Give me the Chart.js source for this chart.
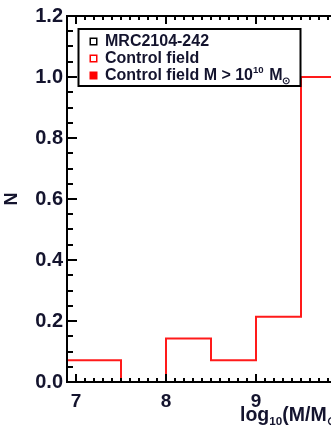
<!DOCTYPE html>
<html>
<head>
<meta charset="utf-8">
<script src="https://cdn.jsdelivr.net/npm/chart.js@4"></script>
<style>
  html, body { margin: 0; padding: 0; background: #fff; overflow: hidden; width: 331px; height: 431px; }
  #wrap { position: absolute; left: 0; top: 0; width: 528px; height: 431px; }
</style>
</head>
<body>
<div id="wrap"><canvas id="c" width="528" height="431"></canvas></div>
<script>
// Stellar-mass histogram: bin edges in log10(M/Msun) and normalised counts per bin
const binEdges = [6.5, 7.0, 7.5, 8.0, 8.5, 9.0, 9.5, 10.0];
const controlCounts = [0.071, 0.071, 0.0, 0.143, 0.071, 0.214, 1.0];
const clusterCounts = [];   // MRC2104-242
const massiveCounts = [];   // control field, M > 10^10 Msun

// Axis ticks
const xTickValues = [7, 8, 9, 10, 11];
const yTickValues = [0.0, 0.2, 0.4, 0.6, 0.8, 1.0, 1.2];

// Legend entries (text runs: normal / superscript / subscript)
const legendEntries = [
  { runs: [{ t: 'MRC2104-242' }], stroke: '#000', fill: null },
  { runs: [{ t: 'Control field' }], stroke: '#ff0000', fill: null },
  { runs: [{ t: 'Control field M > 10' }, { t: '10', sup: true }, { t: ' M' }, { t: '\u2299', sub: true }], stroke: '#ff0000', fill: '#ff0000' }
];

const FONT = '"Liberation Sans", Arial, Helvetica, sans-serif';
const TEXT = '#14142e';

// Turn bin edges + counts into step points; each count holds until the next edge
function histPoints(edges, counts) {
  if (!counts.length) return [];
  const pts = counts.map((c, i) => ({ x: edges[i], y: c }));
  pts.push({ x: edges[counts.length], y: counts[counts.length - 1] });
  pts.push({ x: edges[counts.length], y: 0 });
  return pts;
}

function drawRuns(ctx, runs, x, baseline, size) {
  let cx = x;
  for (const r of runs) {
    let s = size, dy = 0;
    if (r.sup) { s = size * 0.6; dy = -size * 0.42; }
    if (r.sub) { s = size * 0.6; dy = size * 0.22; }
    ctx.font = 'bold ' + s + 'px ' + FONT;
    ctx.fillText(r.t, cx, baseline + dy);
    cx += ctx.measureText(r.t).width + (r.sup ? 1 : 0);
  }
  return cx;
}

const frameAndLegend = {
  id: 'frameAndLegend',
  afterDatasetsDraw(chart) {
    const { ctx, chartArea: a, scales: { x, y } } = chart;
    ctx.save();
    ctx.strokeStyle = '#000';
    ctx.lineWidth = 2;
    ctx.lineCap = 'square';

    // Plot frame
    ctx.beginPath();
    ctx.moveTo(a.right, a.top); ctx.lineTo(a.left, a.top);
    ctx.lineTo(a.left, a.bottom); ctx.lineTo(a.right, a.bottom);
    ctx.lineTo(a.right, a.top);
    ctx.stroke();

    // Inward ticks on bottom and top axes (minor every 0.1)
    ctx.lineCap = 'butt';
    ctx.beginPath();
    for (let k = Math.ceil(x.min * 10); k <= Math.floor(x.max * 10); k++) {
      const px = Math.round(x.getPixelForValue(k / 10));
      const len = (k % 10 === 0) ? 8 : 4;
      ctx.moveTo(px, a.bottom); ctx.lineTo(px, a.bottom - len);
      ctx.moveTo(px, a.top); ctx.lineTo(px, a.top + len);
    }
    // Inward ticks on left axis (minor every 0.05)
    for (let k = 0; k <= 24; k++) {
      const py = Math.round(y.getPixelForValue(k / 20));
      const len = (k % 4 === 0) ? 10 : 6;
      ctx.moveTo(a.left, py); ctx.lineTo(a.left + len, py);
      ctx.moveTo(a.right, py); ctx.lineTo(a.right - len, py);
    }
    ctx.stroke();

    // Legend box
    const bx = a.left + 11.5, by = a.top + 13, bw = 222, bh = 57;
    ctx.fillStyle = '#fff';
    ctx.fillRect(bx, by, bw, bh);
    ctx.lineWidth = 2;
    ctx.strokeRect(bx, by, bw, bh);
    ctx.textBaseline = 'alphabetic';
    ctx.textAlign = 'left';
    legendEntries.forEach((e, i) => {
      const base = by + 17 + i * 17;
      const mx = bx + 11, my = base - 8.5, ms = 8;
      if (e.fill) { ctx.fillStyle = e.fill; ctx.fillRect(mx, my, ms, ms); }
      else { ctx.lineWidth = 1.5; ctx.strokeStyle = e.stroke; ctx.strokeRect(mx + 0.75, my + 0.75, ms - 1.5, ms - 1.5); }
      ctx.fillStyle = TEXT;
      drawRuns(ctx, e.runs, bx + 26.5, base, 16);
    });

    // x-axis title: log10(M/Msun), starting under the 9 tick
    const titleRuns = [{ t: 'log' }, { t: '10', sub: true }, { t: '(M/M' }, { t: '\u2299', sub: true }, { t: ')' }];
    ctx.fillStyle = TEXT;
    drawRuns(ctx, titleRuns, x.getPixelForValue(9) - 16, 421, 19.5);
    ctx.restore();
  }
};

new Chart(document.getElementById('c'), {
  type: 'line',
  data: {
    datasets: [
      { label: 'MRC2104-242', data: histPoints(binEdges, clusterCounts), borderColor: '#000', borderWidth: 2, stepped: 'before', pointRadius: 0, fill: false },
      { label: 'Control field', data: histPoints(binEdges, controlCounts), borderColor: '#ff1a1a', borderWidth: 2, stepped: 'before', pointRadius: 0, fill: false },
      { label: 'Control field M > 10^10 Msun', data: histPoints(binEdges, massiveCounts), borderColor: '#ff0000', backgroundColor: '#ff0000', borderWidth: 2, stepped: 'before', pointRadius: 0, fill: true }
    ]
  },
  options: {
    responsive: false,
    animation: false,
    devicePixelRatio: 1,
    layout: { padding: { left: 0, top: 14, right: 20, bottom: 0 } },
    plugins: { legend: { display: false }, tooltip: { enabled: false } },
    scales: {
      x: {
        type: 'linear', min: 6.9, max: 11.8,
        afterFit(s) { s.height = 49; },
        afterBuildTicks(s) { s.ticks = xTickValues.map(v => ({ value: v })); },
        grid: { display: false, drawTicks: false },
        border: { display: false },
        ticks: { padding: 8, maxRotation: 0, autoSkip: false, color: TEXT, font: { family: FONT, size: 19, weight: 'bold' }, callback: v => String(v) }
      },
      y: {
        type: 'linear', min: 0, max: 1.2,
        afterFit(s) { s.width = 67; },
        afterBuildTicks(s) { s.ticks = yTickValues.map(v => ({ value: v })); },
        grid: { display: false, drawTicks: false },
        border: { display: false },
        ticks: { padding: 4, color: TEXT, font: { family: FONT, size: 20, weight: 'bold' }, callback: v => v.toFixed(1) },
        title: { display: true, text: 'N', color: TEXT, font: { family: FONT, size: 18, weight: 'bold' }, padding: { top: 1, bottom: 0 } }
      }
    }
  },
  plugins: [frameAndLegend]
});
</script>
</body>
</html>
